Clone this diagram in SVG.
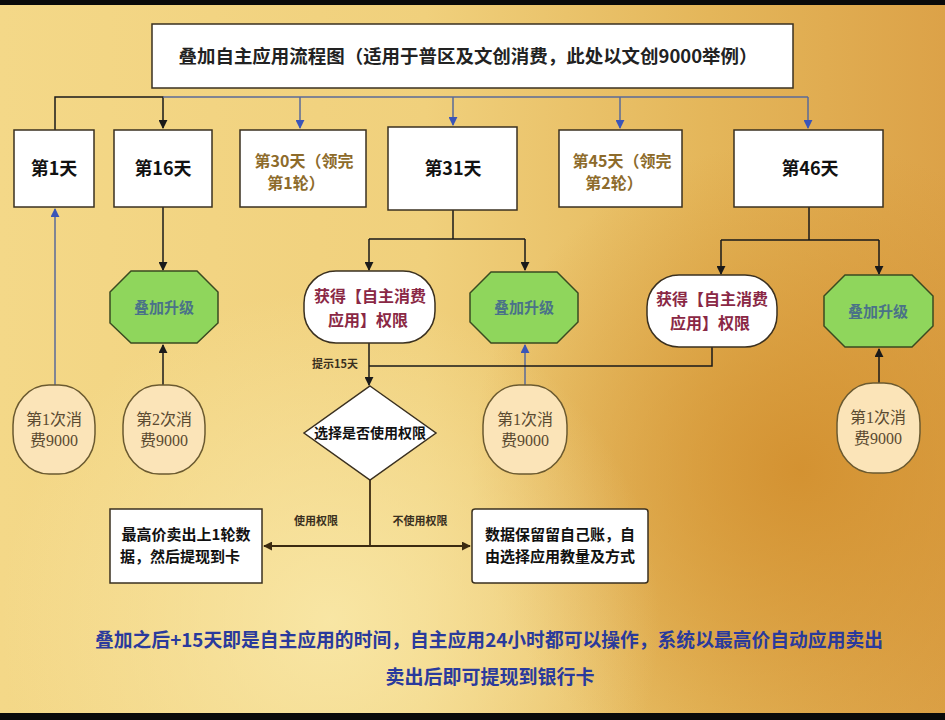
<svg xmlns="http://www.w3.org/2000/svg" width="945" height="720" viewBox="0 0 945 720">
<defs>
<linearGradient id="bg" x1="0" y1="0" x2="1" y2="0">
<stop offset="0" stop-color="#f4d888"/>
<stop offset="0.45" stop-color="#f0d07c"/>
<stop offset="0.75" stop-color="#e4b65a"/>
<stop offset="1" stop-color="#dca248"/>
</linearGradient>
<radialGradient id="dark" cx="800" cy="470" r="330" gradientUnits="userSpaceOnUse">
<stop offset="0" stop-color="#d28f2e" stop-opacity="0.9"/>
<stop offset="1" stop-color="#d28f2e" stop-opacity="0"/>
</radialGradient>
<radialGradient id="light" cx="330" cy="620" r="330" gradientUnits="userSpaceOnUse">
<stop offset="0" stop-color="#f9e8a8" stop-opacity="0.9"/>
<stop offset="1" stop-color="#f9e8a8" stop-opacity="0"/>
</radialGradient>
<marker id="ab" viewBox="0 0 10 10" refX="9" refY="5" markerWidth="9" markerHeight="9" orient="auto" markerUnits="userSpaceOnUse">
<path d="M0,0 L10,5 L0,10 Z" fill="#1a1a1a"/>
</marker>
<marker id="au" viewBox="0 0 10 10" refX="9" refY="5" markerWidth="9" markerHeight="9" orient="auto" markerUnits="userSpaceOnUse">
<path d="M0,0 L10,5 L0,10 Z" fill="#3a55b8"/>
</marker>
<marker id="ad" viewBox="0 0 10 10" refX="9" refY="5" markerWidth="9" markerHeight="9" orient="auto" markerUnits="userSpaceOnUse">
<path d="M0,0 L10,5 L0,10 Z" fill="#3b2a10"/>
</marker>
</defs>
<style>
.box{fill:#ffffff;stroke:#3a3020;stroke-width:1.5}
.oct{fill:#8fd65c;stroke:#3a4a20;stroke-width:1.5}
.oval{fill:#fbe4b8;stroke:#6b5a30;stroke-width:1.5}
.t{font-family:"Noto Sans CJK SC","Liberation Sans",sans-serif;font-weight:bold;text-anchor:middle}
.day{font-size:18px;fill:#111}
.brown{font-size:16px;fill:#8d6b2b}
.grn{font-size:15px;fill:#4a7288}
.red{font-size:16px;fill:#8a2845}
.ov{font-family:"Liberation Serif","Noto Sans CJK SC",serif;font-size:16px;fill:#5a4a30;text-anchor:middle}
.sm{font-size:11px;fill:#3a3020}
.bt{font-size:15px;fill:#111}
.blk{fill:none;stroke:#1a1a1a;stroke-width:1.5}
.blu{fill:none;stroke:#5a6a98;stroke-width:1.5}
.brn{fill:none;stroke:#3b2a10;stroke-width:1.8}
</style>
<rect x="0" y="0" width="945" height="720" fill="url(#bg)"/>
<rect x="0" y="0" width="945" height="720" fill="url(#dark)"/>
<rect x="0" y="0" width="945" height="720" fill="url(#light)"/>
<rect x="0" y="0" width="945" height="5" fill="#0a0a0a"/>
<rect x="0" y="713" width="945" height="7" fill="#0a0a0a"/>

<g id="connectors">
<path class="blk" d="M55,130 V97 H163 V128" marker-end="url(#ab)"/>
<path class="blu" d="M163,97 H808"/>
<path class="blu" d="M300,97 V128" marker-end="url(#au)"/>
<path class="blu" d="M453,97 V125" marker-end="url(#au)"/>
<path class="blu" d="M620,97 V128" marker-end="url(#au)"/>
<path class="blu" d="M808,97 V128" marker-end="url(#au)"/>
<path class="blu" d="M55,385 V209" marker-end="url(#au)"/>
<path class="blk" d="M163,207 V270" marker-end="url(#ab)"/>
<path class="blk" d="M163,385 V345" marker-end="url(#ab)"/>
<path class="blk" d="M453,210 V239 M369,239 H525"/>
<path class="blk" d="M369,239 V270" marker-end="url(#ab)"/>
<path class="blk" d="M525,239 V270" marker-end="url(#ab)"/>
<path class="blu" d="M525,385 V345" marker-end="url(#au)"/>
<path class="blk" d="M369,343 V385" marker-end="url(#ab)"/>
<path class="blk" d="M369,366 H712 V347"/>
<path class="blk" d="M809,207 V240 M721,240 H879"/>
<path class="blk" d="M721,240 V274" marker-end="url(#ab)"/>
<path class="blk" d="M879,240 V274" marker-end="url(#ab)"/>
<path class="blk" d="M879,383 V349" marker-end="url(#ab)"/>
<path class="brn" d="M370,480 V546"/>
<path class="brn" d="M370,546 H264" marker-end="url(#ad)"/>
<path class="brn" d="M370,546 H470" marker-end="url(#ad)"/>
<text class="t sm" x="335" y="368" font-size="12">提示15天</text>
<text class="t sm" x="316" y="525">使用权限</text>
<text class="t sm" x="420" y="525">不使用权限</text>
</g>

<g id="title">
<rect class="box" x="152" y="24" width="641" height="64"/>
<text class="t" x="468" y="63" font-size="18" fill="#222" textLength="579" lengthAdjust="spacingAndGlyphs">叠加自主应用流程图（适用于普区及文创消费，此处以文创9000举例）</text>
</g>

<g id="day1"><rect class="box" x="14" y="130" width="80" height="77"/><text class="t day" x="54" y="175">第1天</text></g>
<g id="day16"><rect class="box" x="114" y="130" width="98" height="77"/><text class="t day" x="163" y="175">第16天</text></g>
<g id="day30"><rect class="box" x="240" y="130" width="126" height="77"/><text class="t brown" x="304" y="167">第30天（领完</text><text class="t brown" x="296" y="189">第1轮）</text></g>
<g id="day31"><rect class="box" x="388" y="127" width="129" height="83"/><text class="t day" x="453" y="175">第31天</text></g>
<g id="day45"><rect class="box" x="559" y="130" width="123" height="77"/><text class="t brown" x="622" y="167">第45天（领完</text><text class="t brown" x="614" y="189">第2轮）</text></g>
<g id="day46"><rect class="box" x="734" y="130" width="149" height="77"/><text class="t day" x="810" y="175">第46天</text></g>

<g id="up1"><polygon class="oct" points="131,271 197,271 218,292 218,323 197,343 131,343 110,323 110,292"/><text class="t grn" x="164" y="313">叠加升级</text></g>
<g id="up2"><polygon class="oct" points="491,272 557,272 578,293 578,322 557,343 491,343 470,322 470,293"/><text class="t grn" x="524" y="313">叠加升级</text></g>
<g id="up3"><polygon class="oct" points="845,275 912,275 933,296 933,326 912,347 845,347 824,326 824,296"/><text class="t grn" x="878" y="317">叠加升级</text></g>

<g id="perm1"><rect class="box" x="304" y="271" width="131" height="72" rx="32" ry="32"/><text class="t red" x="370" y="302">获得【自主消费</text><text class="t red" x="368" y="326">应用】权限</text></g>
<g id="perm2"><rect class="box" x="647" y="275" width="130" height="72" rx="32" ry="32"/><text class="t red" x="712" y="305">获得【自主消费</text><text class="t red" x="710" y="329">应用】权限</text></g>

<g id="pay1"><rect class="oval" x="13" y="385" width="82" height="89" rx="36" ry="40"/><text class="ov" x="54" y="425">第1次消</text><text class="ov" x="54" y="446">费9000</text></g>
<g id="pay2"><rect class="oval" x="123" y="385" width="82" height="89" rx="36" ry="40"/><text class="ov" x="164" y="425">第2次消</text><text class="ov" x="164" y="446">费9000</text></g>
<g id="pay3"><rect class="oval" x="483" y="385" width="84" height="89" rx="36" ry="40"/><text class="ov" x="525" y="425">第1次消</text><text class="ov" x="525" y="446">费9000</text></g>
<g id="pay4"><rect class="oval" x="837" y="383" width="83" height="90" rx="36" ry="40"/><text class="ov" x="878" y="423">第1次消</text><text class="ov" x="878" y="444">费9000</text></g>

<g id="choose"><polygon class="box" points="370,386 436,433 370,480 304,433"/><text class="t" x="370" y="438" font-size="14" fill="#111">选择是否使用权限</text></g>

<g id="use"><rect class="box" x="110" y="509" width="152" height="74"/><text class="t bt" x="186" y="540">最高价卖出上1轮数</text><text class="t bt" x="180" y="562">据，然后提现到卡</text></g>
<g id="keep"><rect class="box" x="472" y="509" width="176" height="74" rx="3"/><text class="t bt" x="560" y="540">数据保留留自己账，自</text><text class="t bt" x="560" y="562">由选择应用教量及方式</text></g>

<g id="note">
<text class="t" x="489" y="647" font-size="19" fill="#2a3a9c" textLength="788" lengthAdjust="spacingAndGlyphs">叠加之后+15天即是自主应用的时间，自主应用24小时都可以操作，系统以最高价自动应用卖出</text>
<text class="t" x="490" y="684" font-size="19" fill="#2a3a9c">卖出后即可提现到银行卡</text>
</g>
</svg>
